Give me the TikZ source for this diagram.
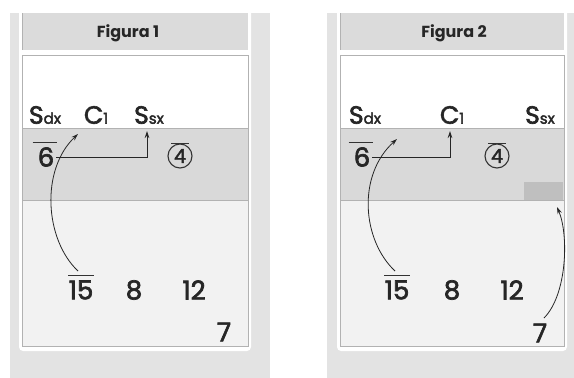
\documentclass[tikz,border=0pt]{standalone}
\usepackage{fontspec}
\setmainfont{Poppins}
\newfontfamily\heavy{Poppins}[FakeBold=2.5]
\usetikzlibrary{arrows.meta}
\tikzset{
  lbl/.style={inner sep=0pt, text=black!85, font=\heavy\fontsize{25}{25}\selectfont},
  num/.style={inner sep=0pt, text=black!85, font=\heavy\fontsize{26}{26}\selectfont},
  ttl/.style={inner sep=0pt, text=black!85, font=\fontsize{16}{16}\selectfont\bfseries},
  circ/.style={circle, draw=black!80, line width=1.1pt, minimum size=24pt, inner sep=0pt, text=black!85, font=\heavy\fontsize{19}{19}\selectfont},
  arr/.style={-{Stealth[length=7pt,width=4.5pt]}, line width=0.8pt, black!85},
  bar/.style={line width=1.1pt, black!80},
  sect/.style={draw=gray!60, line width=0.9pt},
}
\newcommand{\sub}[1]{{\fontsize{15}{15}\selectfont #1}}
\begin{document}
\begin{tikzpicture}[x=1pt,y=-1pt]
\useasboundingbox (0,0) rectangle (574,378);
\fill[white] (0,0) rectangle (574,378);
% paper backgrounds
\fill[gray!22] (10,13) rectangle (270,378);
\fill[gray!22] (327,13) rectangle (574,378);
% ---------- Panel 1 ----------
\fill[white, rounded corners=4pt] (19,8) rectangle (251,351);
\fill[gray!28] (22,13) rectangle (248,50);
\draw[sect] (22,13) -- (22,50);
\draw[sect, fill=white] (22,55) rectangle (248,128);
\draw[sect, fill=gray!30] (22,128) rectangle (248,200);
\draw[sect, fill=gray!10] (22,200) rectangle (248,346);
\node[ttl] (t1) at (128,33) {Figura 1};
\node[lbl] (sdx1) at (45,115) {S\sub{dx}};
\node[lbl] (c1a) at (96,115) {C\sub{1}};
\node[lbl] (ssx1) at (149,115) {S\sub{sx}};
\node[num] (six1) at (46,157) {6};
\draw[bar] ([xshift=-5pt,yshift=5pt]six1.north west) -- ([xshift=3pt,yshift=5pt]six1.north east);
\node[circ] (four1) at (180,156) {4};
\draw[bar] ([yshift=4pt]four1.north west) -- ([yshift=4pt]four1.north east);
\node[num] (n15a) at (81,290) {15};
\draw[bar] ([yshift=5pt]n15a.north west) -- ([yshift=5pt]n15a.north east);
\node[num] (n8a) at (134,290) {8};
\node[num] (n12a) at (194,290) {12};
\node[num] (n7a) at (224,332) {7};
\coordinate (tipA) at (147,131);
\coordinate (tipB) at (78,134);
\draw[arr] ([xshift=2pt]six1.east) -| (tipA);
\draw[arr] (78,271) .. controls (45,240) and (40,170) .. (tipB);
% ---------- Panel 2 ----------
\fill[white, rounded corners=4pt] (337,8) rectangle (567,351);
\fill[gray!28] (340,13) rectangle (564,50);
\draw[sect] (340,13) -- (340,50);
\draw[sect, fill=white] (340,55) rectangle (564,128);
\draw[sect, fill=gray!30] (340,128) rectangle (564,200);
\fill[gray!50] (524,182) rectangle (563,199.5);
\draw[sect, fill=gray!10] (340,200) rectangle (564,346);
\node[ttl] (t2) at (454,33) {Figura 2};
\node[lbl] (sdx2) at (365,115) {S\sub{dx}};
\node[lbl] (c1b) at (452,115) {C\sub{1}};
\node[lbl] (ssx2) at (540,115) {S\sub{sx}};
\node[num] (six2) at (362,157) {6};
\draw[bar] ([xshift=-5pt,yshift=5pt]six2.north west) -- ([xshift=3pt,yshift=5pt]six2.north east);
\node[circ] (four2) at (497,156) {4};
\draw[bar] ([yshift=4pt]four2.north west) -- ([yshift=4pt]four2.north east);
\node[num] (n15b) at (397,290) {15};
\draw[bar] ([yshift=5pt]n15b.north west) -- ([yshift=5pt]n15b.north east);
\node[num] (n8b) at (452,290) {8};
\node[num] (n12b) at (512,290) {12};
\node[num] (n7b) at (540,333) {7};
\coordinate (tipC) at (450,131);
\coordinate (tipD) at (397,139);
\coordinate (tipE) at (557,207);
\draw[arr] ([xshift=2pt]six2.east) -| (tipC);
\draw[arr] (395,271) .. controls (362,240) and (357,175) .. (tipD);
\draw[arr] (544,318) .. controls (567,295) and (569,235) .. (tipE);
\end{tikzpicture}
\end{document}
